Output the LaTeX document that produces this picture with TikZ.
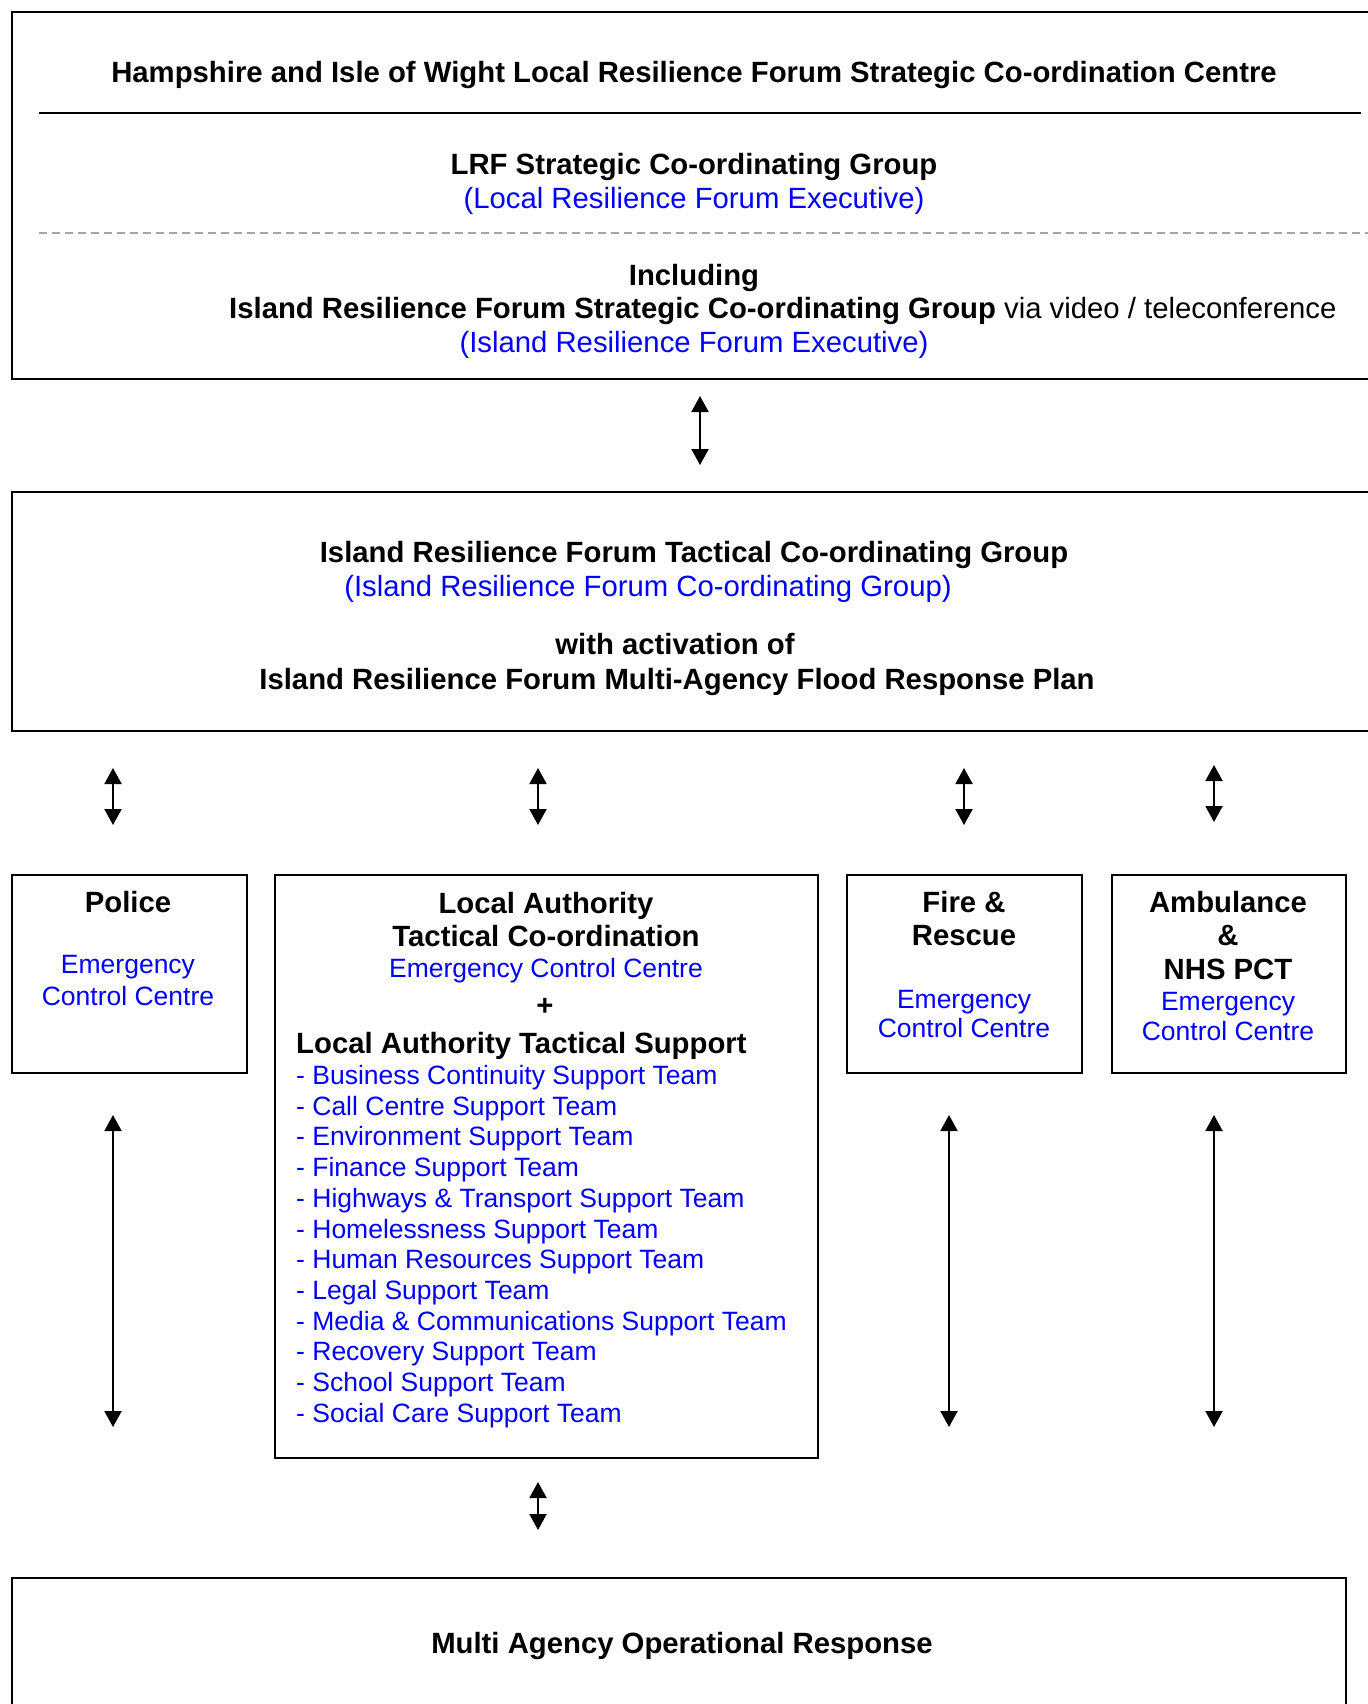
\documentclass[tikz,border=0pt]{standalone}
\usepackage{fontspec}
\setmainfont{Liberation Sans}
\usetikzlibrary{arrows.meta}
\definecolor{txtblue}{RGB}{0,0,255}
\definecolor{dashgray}{RGB}{165,165,165}
\begin{document}
\begin{tikzpicture}[x=1pt,y=-1pt,
  box/.style={draw, line width=2.2pt, inner sep=0pt, anchor=north west},
  bigtxt/.style={inner sep=0pt, font=\fontsize{29.3}{33}\selectfont},
  bigbold/.style={inner sep=0pt, font=\fontsize{29.3}{33}\selectfont\bfseries},
  bigblue/.style={inner sep=0pt, font=\fontsize{29.3}{33}\selectfont, text=txtblue},
  smallblue/.style={inner sep=0pt, font=\fontsize{26.5}{30}\selectfont, text=txtblue},
  dblarrow/.style={line width=2pt, {Triangle[width=17pt,length=16pt]}-{Triangle[width=17pt,length=16pt]}}
]
\useasboundingbox[fill=white] (0,0) rectangle (1367,1704);

% ---------- top box ----------
\node[box, minimum width=1379pt, minimum height=367pt] (topbox) at (11,11) {};
\node[bigbold, anchor=base] (hdr) at (694,83) {Hampshire and Isle of Wight Local Resilience Forum Strategic Co-ordination Centre};
\coordinate (hrA) at (39,113);
\coordinate (hrB) at (1361,113);
\draw[line width=2pt] (hrA) -- (hrB);
\node[bigbold, anchor=base] (lrf) at (694,175) {LRF Strategic Co-ordinating Group};
\node[bigblue, anchor=base] (lrfex) at (694,209) {(Local Resilience Forum Executive)};
\coordinate (dsA) at (39,233);
\coordinate (dsB) at (1380,233);
\draw[dashgray, line width=1.2pt, dash pattern=on 7.5pt off 5.5pt] (dsA) -- (dsB);
\node[bigbold, anchor=base] (incl) at (694,285) {Including};
\node[bigtxt, anchor=base west] (irfsg) at (229,318) {\textbf{Island Resilience Forum Strategic Co-ordinating Group} via video / teleconference};
\node[bigblue, anchor=base] (irfex) at (694,352) {(Island Resilience Forum Executive)};

% arrow top -> tactical
\coordinate (a1t) at (700,396);
\coordinate (a1b) at (700,465);
\draw[dblarrow] (a1t) -- (a1b);

% ---------- tactical box ----------
\node[box, minimum width=1379pt, minimum height=239pt] (tacbox) at (11,491) {};
\node[bigbold, anchor=base] (tac1) at (694,562) {Island Resilience Forum Tactical Co-ordinating Group};
\node[bigblue, anchor=base] (tac2) at (648,596) {(Island Resilience Forum Co-ordinating Group)};
\node[bigbold, anchor=base] (tac3) at (675,654) {with activation of};
\node[bigbold, anchor=base] (tac4) at (677,689) {Island Resilience Forum Multi-Agency Flood Response Plan};

% row-2 arrows
\coordinate (p1t) at (113,768); \coordinate (p1b) at (113,825);
\coordinate (l1t) at (538,768); \coordinate (l1b) at (538,825);
\coordinate (f1t) at (964,768); \coordinate (f1b) at (964,825);
\coordinate (m1t) at (1214,765); \coordinate (m1b) at (1214,822);
\draw[dblarrow] (p1t) -- (p1b);
\draw[dblarrow] (l1t) -- (l1b);
\draw[dblarrow] (f1t) -- (f1b);
\draw[dblarrow] (m1t) -- (m1b);

% ---------- police ----------
\node[box, minimum width=235pt, minimum height=198pt] (police) at (11,874) {};
\node[bigbold, anchor=base] (pol1) at (128,912) {Police};
\node[smallblue, anchor=base] (pol2) at (128,973) {Emergency};
\node[smallblue, anchor=base] (pol3) at (128,1005) {Control Centre};

% ---------- local authority ----------
\node[box, minimum width=543pt, minimum height=583pt] (la) at (274,874) {};
\node[bigbold, anchor=base] (la1) at (546,913) {Local Authority};
\node[bigbold, anchor=base] (la2) at (546,946) {Tactical Co-ordination};
\node[smallblue, anchor=base] (la3) at (546,977.5) {Emergency Control Centre};
\node[bigbold, anchor=base] (la4) at (545,1015) {+};
\node[bigbold, anchor=base west] (la5) at (296,1053) {Local Authority Tactical Support};
\foreach \t [count=\i from 0] in {Business Continuity Support Team, Call Centre Support Team, Environment Support Team, Finance Support Team, Highways \& Transport Support Team, Homelessness Support Team, Human Resources Support Team, Legal Support Team, Media \& Communications Support Team, Recovery Support Team, School Support Team, Social Care Support Team}{
  \node[smallblue, anchor=base west] (li\i) at (296,1084.5+30.7*\i) {- \t};
}

% ---------- fire ----------
\node[box, minimum width=235pt, minimum height=198pt] (fire) at (846,874) {};
\node[bigbold, anchor=base] (fr1) at (964,912) {Fire \&};
\node[bigbold, anchor=base] (fr2) at (964,945) {Rescue};
\node[smallblue, anchor=base] (fr3) at (964,1008) {Emergency};
\node[smallblue, anchor=base] (fr4) at (964,1037.5) {Control Centre};

% ---------- ambulance ----------
\node[box, minimum width=234pt, minimum height=198pt] (amb) at (1111,874) {};
\node[bigbold, anchor=base] (am1) at (1228,912) {Ambulance};
\node[bigbold, anchor=base] (am2) at (1228,945) {\&};
\node[bigbold, anchor=base] (am3) at (1228,979) {NHS PCT};
\node[smallblue, anchor=base] (am4) at (1228,1010.5) {Emergency};
\node[smallblue, anchor=base] (am5) at (1228,1040.5) {Control Centre};

% long arrows
\coordinate (p2t) at (113,1115); \coordinate (p2b) at (113,1427);
\coordinate (f2t) at (949,1115); \coordinate (f2b) at (949,1427);
\coordinate (m2t) at (1214,1115); \coordinate (m2b) at (1214,1427);
\draw[dblarrow] (p2t) -- (p2b);
\draw[dblarrow] (f2t) -- (f2b);
\draw[dblarrow] (m2t) -- (m2b);

% LA -> operational
\coordinate (l2t) at (538,1482); \coordinate (l2b) at (538,1530);
\draw[dblarrow] (l2t) -- (l2b);

% ---------- bottom box ----------
\node[box, minimum width=1334pt, minimum height=160pt] (ops) at (11,1577) {};
\node[bigbold, anchor=base] (ops1) at (682,1653) {Multi Agency Operational Response};
\end{tikzpicture}
\end{document}
